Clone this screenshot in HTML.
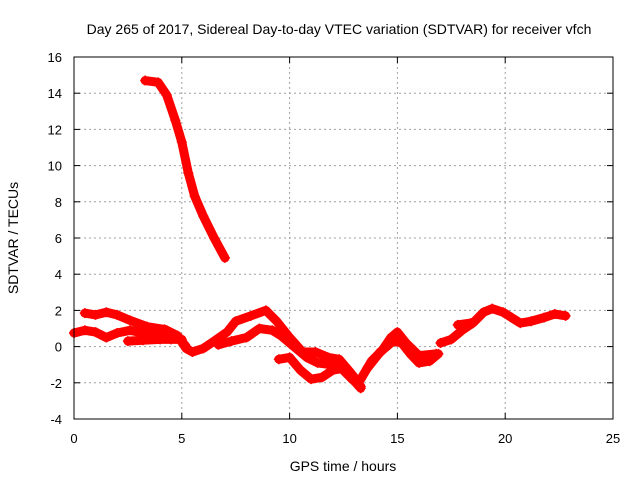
<!DOCTYPE html>
<html><head><meta charset="utf-8"><style>body{margin:0;background:#fff}svg{display:block;font-family:"Liberation Sans",sans-serif}</style></head>
<body>
<svg id="chart" width="640" height="480" viewBox="0 0 640 480">
<text x="339" y="34" font-size="14" text-anchor="middle">Day 265 of 2017, Sidereal Day-to-day VTEC variation (SDTVAR) for receiver vfch</text>
<g id="grid"></g>
<g id="axes"></g>
<g id="series"></g>
<rect x="74" y="57" width="539" height="362" fill="none" stroke="#000" stroke-width="1"/>
<text x="343" y="471" font-size="14" text-anchor="middle">GPS time / hours</text>
<text transform="translate(18,238) rotate(-90)" font-size="14" text-anchor="middle">SDTVAR / TECUs</text>
</svg>
<script>
const xTicks=[0,5,10,15,20,25];
const yTicks=[-4,-2,0,2,4,6,8,10,12,14,16];
const s1=[[3.3,14.7],[3.9,14.6],[4.3,13.9],[4.7,12.5],[5.0,11.3],[5.3,9.6],[5.6,8.3],[6.0,7.2],[6.5,6.0],[7.0,4.9]];
const s2=[[0.5,1.85],[1.0,1.75],[1.5,1.9],[2.0,1.75],[2.6,1.45],[3.4,1.1],[4.2,0.95],[4.8,0.6],[5.2,-0.1],[5.5,-0.3],[6.0,-0.1],[6.5,0.3],[7.1,0.8],[7.5,1.4],[8.2,1.7],[8.9,2.0],[9.4,1.4],[10.0,0.5],[10.6,-0.3],[11.2,-0.3],[11.8,-0.6],[12.3,-0.7],[12.8,-1.4],[13.2,-2.0]];
const s3=[[0,0.75],[0.5,0.9],[1.0,0.8],[1.5,0.5],[2.0,0.75],[2.6,0.9],[3.2,0.75],[3.8,0.7],[4.3,0.9],[4.8,0.6],[5.2,0.0]];
const s4=[[2.5,0.3],[3.2,0.35],[4.0,0.4],[4.5,0.4],[5.0,0.4]];
const s5=[[6.7,0.1],[7.3,0.3],[8.0,0.5],[8.6,1.0],[9.2,0.9],[9.6,0.6],[10.2,0.0],[10.8,-0.6],[11.3,-0.9],[11.9,-1.0],[12.4,-1.2],[12.9,-1.8],[13.3,-2.2]];
const s6=[[9.5,-0.7],[10.0,-0.6],[10.5,-1.3],[11.0,-1.8],[11.5,-1.7],[12.0,-1.3],[12.5,-1.2],[13.0,-1.9],[13.3,-2.3]];
const s7=[[13.3,-1.8],[13.8,-0.8],[14.3,-0.2],[14.7,0.5],[15.0,0.8],[15.4,0.2],[16.0,-0.5],[16.8,-0.4]];
const s8=[[13.6,-1.2],[14.2,-0.3],[14.8,0.3],[15.2,0.2],[15.6,-0.4],[16.0,-0.9],[16.5,-0.8],[16.9,-0.4]];
const s9=[[17.0,0.2],[17.5,0.4],[18.0,0.9],[18.5,1.3],[19.0,1.9],[19.4,2.1],[19.9,1.9],[20.3,1.6],[20.7,1.3],[21.2,1.4],[21.8,1.6],[22.3,1.8],[22.8,1.7]];
const s10=[[17.8,1.2],[18.4,1.3]];
const allSeries=[s1,s2,s3,s4,s5,s6,s7,s8,s9,s10];
const X0=74,X1=613,Y0=419,Y1=57,xmin=0,xmax=25,ymin=-4,ymax=16;
const sx=v=>X0+(v-xmin)/(xmax-xmin)*(X1-X0);
const sy=v=>Y0-(v-ymin)/(ymax-ymin)*(Y0-Y1);
const NS="http://www.w3.org/2000/svg";
function mk(t,a,p){const e=document.createElementNS(NS,t);for(const k in a)e.setAttribute(k,a[k]);p.appendChild(e);return e;}
const grid=document.getElementById('grid'),axes=document.getElementById('axes'),ser=document.getElementById('series');
xTicks.forEach(v=>{const x=sx(v);
 if(v>xmin&&v<xmax){const g=mk('line',{x1:x,x2:x,y1:Y0,y2:Y1,stroke:'#a0a0a0','stroke-dasharray':'2,3'},grid);}
 const t1=mk('line',{x1:x,x2:x,y1:Y0,y2:Y0-6,stroke:'#000'},axes);
 const t2=mk('line',{x1:x,x2:x,y1:Y1,y2:Y1+6,stroke:'#000'},axes);
 const l=mk('text',{x:x,y:443,'font-size':13,'text-anchor':'middle'},axes);l.textContent=v;});
yTicks.forEach(v=>{const y=sy(v);
 if(v>ymin&&v<ymax){const g=mk('line',{x1:X0,x2:X1,y1:y,y2:y,stroke:'#a0a0a0','stroke-dasharray':'2,3'},grid);}
 const t1=mk('line',{x1:X0,x2:X0+6,y1:y,y2:y,stroke:'#000'},axes);
 const t2=mk('line',{x1:X1,x2:X1-6,y1:y,y2:y,stroke:'#000'},axes);
 const l=mk('text',{x:62,y:y+5,'font-size':13,'text-anchor':'end'},axes);l.textContent=v;});
allSeries.forEach((s,i)=>{
 const p=mk('polyline',{points:s.map(d=>sx(d[0])+','+sy(d[1])).join(' '),fill:'none',stroke:'#ff0000','stroke-width':9,'stroke-linejoin':'round','stroke-linecap':'round'},ser);
 
 
 s.forEach(d=>{const x=sx(d[0]),y=sy(d[1]);
  const m=mk('path',{d:`M${x-5},${y}h10M${x},${y-5}v10`,stroke:'#ff0000','stroke-width':1.5},ser);
  
  });
});
</script>
</body></html>
